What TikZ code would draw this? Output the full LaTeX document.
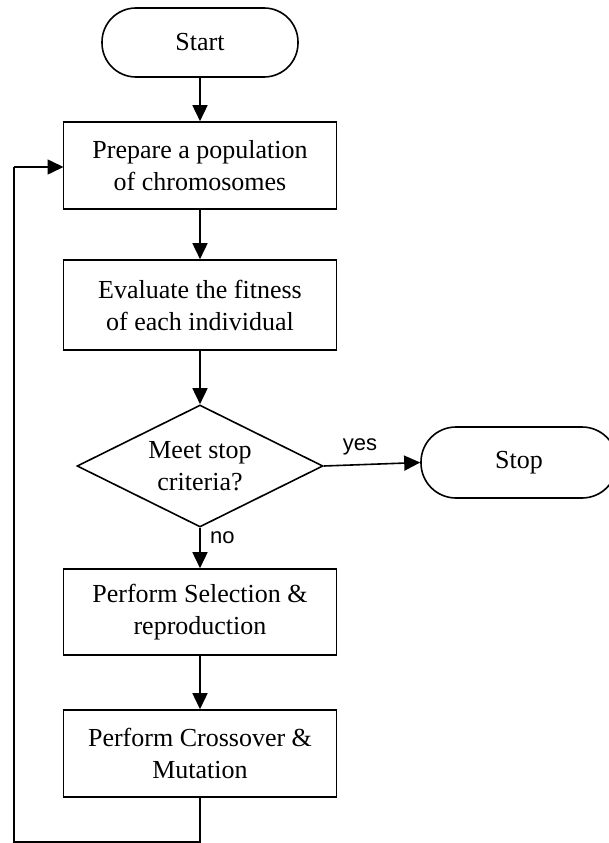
\documentclass[tikz,border=0pt]{standalone}
\usepackage{fontspec}
\setmainfont{Liberation Serif}
\newfontfamily\lblfont{Liberation Sans}
\usetikzlibrary{shapes.geometric,arrows.meta}
\begin{document}
\begin{tikzpicture}[x=1pt,y=-1pt,
  every node/.style={font=\fontsize{26}{32}\selectfont},
  conn/.style={line width=1.6pt},
  arr/.style={conn,-{Triangle[length=16pt,width=15pt]}},
  procbox/.style={draw,line width=1.6pt,rectangle,minimum width=273pt,align=center,inner sep=0pt},
  termbox/.style={draw,line width=1.6pt,rectangle,inner sep=0pt},
  decbox/.style={draw,line width=1.6pt,diamond,aspect=2,inner sep=0pt,minimum width=246pt,minimum height=122pt,align=center},
  lbl/.style={font=\lblfont\fontsize{22}{26}\selectfont,inner sep=0pt}
]
\useasboundingbox (0,0) rectangle (608,843);
\node[termbox,minimum width=196pt,minimum height=69pt,rounded corners=34pt] (start) at (200,42.5) {Start};
\node[procbox,minimum height=87pt] (b1) at (200,165.5) {Prepare a population\\of chromosomes};
\node[procbox,minimum height=90pt] (b2) at (200,305) {Evaluate the fitness\\of each individual};
\node[decbox] (dec) at (200,466) {Meet stop\\criteria?};
\node[termbox,minimum width=196pt,minimum height=71pt,rounded corners=35pt] (stop) at (519,462.5) {Stop};
\node[procbox,minimum height=86pt] (b3) at (200,612) {Perform Selection \&\\reproduction};
\node[procbox,minimum height=87pt] (b4) at (200,753.5) {Perform Crossover \&\\Mutation};
\node[lbl] (yes) at (360,447) {yes};
\node[lbl,anchor=west] (no) at (210,538) {no};
\coordinate (c1) at (200,842);
\coordinate (c2) at (14,842);
\coordinate (c3) at (14,167);
\coordinate (c4) at (63.5,167);
\draw[arr] (start.south) -- (b1.north);
\draw[arr] (b1.south) -- (b2.north);
\draw[arr] (b2.south) -- (dec.north);
\draw[arr] (dec.east) -- (stop.west);
\draw[arr] (dec.south) -- (b3.north);
\draw[arr] (b3.south) -- (b4.north);
\draw[conn] (b4.south) -- (c1) -- (c2) -- (c3);
\draw[arr] (c3) -- (c4);
\end{tikzpicture}
\end{document}
